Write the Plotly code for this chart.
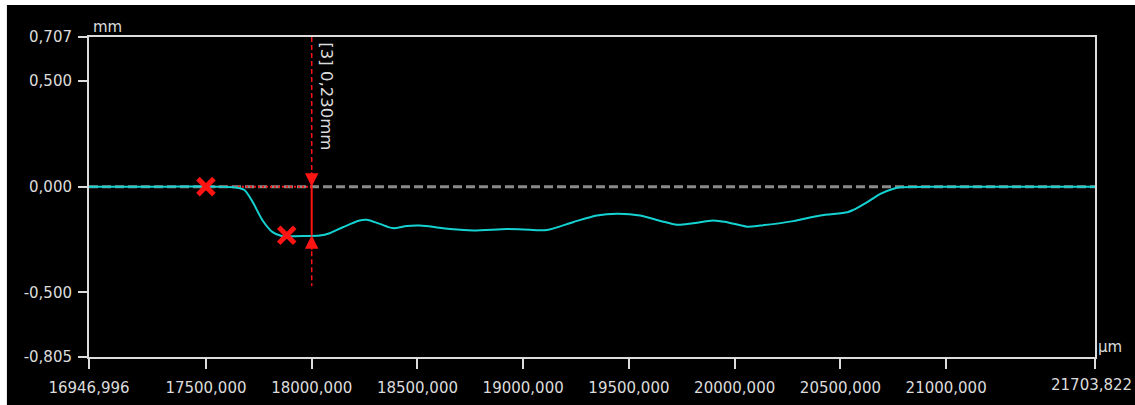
import plotly.graph_objects as go

# Profile trace: position (µm) vs height (mm)
x_um = [16946.996, 17300, 17565, 17640, 17683, 17721, 17768, 17815, 17858, 17900,
        17960, 18038, 18085, 18147, 18227, 18260, 18322, 18383, 18450, 18511,
        18653, 18762, 18923, 19000, 19112, 19235, 19349, 19444, 19553, 19650,
        19728, 19803, 19898, 19964, 20059, 20120, 20277, 20405, 20533, 20561,
        20627, 20689, 20751, 20784, 21000, 21703.822]
y_mm = [0.0, 0.0, 0.0, -0.004, -0.017, -0.073, -0.16, -0.215, -0.233, -0.234,
        -0.233, -0.231, -0.22, -0.192, -0.16, -0.157, -0.176, -0.196, -0.186, -0.184,
        -0.2, -0.207, -0.2, -0.202, -0.205, -0.168, -0.136, -0.128, -0.136, -0.162,
        -0.18, -0.173, -0.16, -0.168, -0.189, -0.184, -0.163, -0.136, -0.121, -0.11,
        -0.073, -0.034, -0.01, -0.003, 0.0, 0.0]

# Measurement points (red crosses)
cross_x = [17500, 17882]
cross_y = [0.0, -0.23]

# Depth measurement [3]
meas_x = 18000
meas_depth = 0.230
meas_ref_x = 17500
meas_ext_bottom = -0.47

# Axis limits and ticks
x_min, x_max = 16946.996, 21703.822
y_min, y_max = -0.805, 0.707
x_ticks = [16946.996, 17500, 18000, 18500, 19000, 19500, 20000, 20500, 21000, 21703.822]
x_ticktext = ["16946,996", "17500,000", "18000,000", "18500,000", "19000,000",
              "19500,000", "20000,000", "20500,000", "21000,000", "21703,822"]
y_ticks = [0.707, 0.5, 0.0, -0.5, -0.805]
y_ticktext = ["0,707", "0,500", "0,000", "-0,500", "-0,805"]

FG = "#dcdcdc"
RED = "#ff1414"
CYAN = "#14d2d2"
FONT = dict(family="DejaVu Sans", size=15, color=FG)

fig = go.Figure()

# zero reference line
fig.add_trace(go.Scatter(x=[x_min, x_max], y=[0, 0], mode="lines",
                         line=dict(color="#8a8a8a", width=3, dash="9px,4px"),
                         hoverinfo="skip"))
# measurement reference (dotted red)
fig.add_trace(go.Scatter(x=[meas_ref_x, meas_x], y=[0, 0], mode="lines",
                         line=dict(color=RED, width=2, dash="2px,2px"),
                         hoverinfo="skip"))
# dashed extension lines of the measurement
fig.add_trace(go.Scatter(x=[meas_x, meas_x], y=[y_max, 0], mode="lines",
                         line=dict(color=RED, width=1.5, dash="5px,3px"),
                         hoverinfo="skip"))
fig.add_trace(go.Scatter(x=[meas_x, meas_x], y=[-meas_depth, meas_ext_bottom], mode="lines",
                         line=dict(color=RED, width=1.5, dash="5px,3px"),
                         hoverinfo="skip"))
# profile
fig.add_trace(go.Scatter(x=x_um, y=y_mm, mode="lines",
                         line=dict(color=CYAN, width=2, shape="spline", smoothing=0.8)))
# solid measurement segment
fig.add_trace(go.Scatter(x=[meas_x, meas_x], y=[0, -meas_depth], mode="lines",
                         line=dict(color=RED, width=2), hoverinfo="skip"))
# measurement points
fig.add_trace(go.Scatter(x=cross_x, y=cross_y, mode="markers",
                         marker=dict(symbol="x-thin", size=16,
                                     line=dict(color=RED, width=5))))

annotations = [
    # arrowheads at both ends of the depth segment
    dict(x=meas_x, y=0, ax=0, ay=-16, showarrow=True, arrowhead=2,
         arrowsize=1.8, arrowwidth=1.5, arrowcolor=RED, text=""),
    dict(x=meas_x, y=-meas_depth, ax=0, ay=16, showarrow=True, arrowhead=2,
         arrowsize=1.8, arrowwidth=1.5, arrowcolor=RED, text=""),
    dict(x=meas_x, y=y_max, xshift=15, yshift=-3, xanchor="center", yanchor="top",
         textangle=90, showarrow=False,
         text="[3] " + f"{meas_depth:.3f}".replace(".", ",") + "mm",
         font=dict(family="DejaVu Sans", size=16.5, color=FG)),
    # axis units
    dict(x=0, y=1, xref="paper", yref="paper", xanchor="left", yanchor="bottom",
         xshift=2, yshift=-1, showarrow=False, text="mm", font=FONT),
    dict(x=1, y=0, xref="paper", yref="paper", xanchor="left", yanchor="bottom",
         xshift=1, yshift=-1, showarrow=False, text="µm", font=FONT),
    # end-of-range label, kept inside the page
    dict(x=x_ticks[-1], y=0, xref="x", yref="paper", xanchor="right", yanchor="top",
         xshift=39, yshift=-17, showarrow=False, text=x_ticktext[-1], font=FONT),
]

fig.update_layout(
    width=1135, height=405,
    margin=dict(l=89, r=40, t=37, b=48, autoexpand=False),
    paper_bgcolor="white",
    plot_bgcolor="black",
    showlegend=False,
    font=FONT,
    annotations=annotations,
    shapes=[dict(type="rect", xref="paper", yref="paper",
                 x0=-0.0816, x1=1.045, y0=-0.15, y1=1.1,
                 fillcolor="black", line=dict(width=0), layer="below")],
    xaxis=dict(range=[x_min, x_max], tickvals=x_ticks,
               ticktext=x_ticktext[:-1] + [""],
               showgrid=False, zeroline=False, showline=True, linecolor=FG,
               linewidth=2, mirror=True, ticks="outside", ticklen=10,
               tickwidth=2, tickcolor=FG, tickfont=FONT, automargin=False,
               ticklabelstandoff=6),
    yaxis=dict(range=[y_min, y_max], tickvals=y_ticks, ticktext=y_ticktext,
               showgrid=False, zeroline=False, showline=True, linecolor=FG,
               linewidth=2, mirror=True, ticks="outside", ticklen=9,
               tickwidth=2, tickcolor=FG, tickfont=FONT, automargin=False,
               ticklabelstandoff=3),
)

fig.write_html("out.html")
